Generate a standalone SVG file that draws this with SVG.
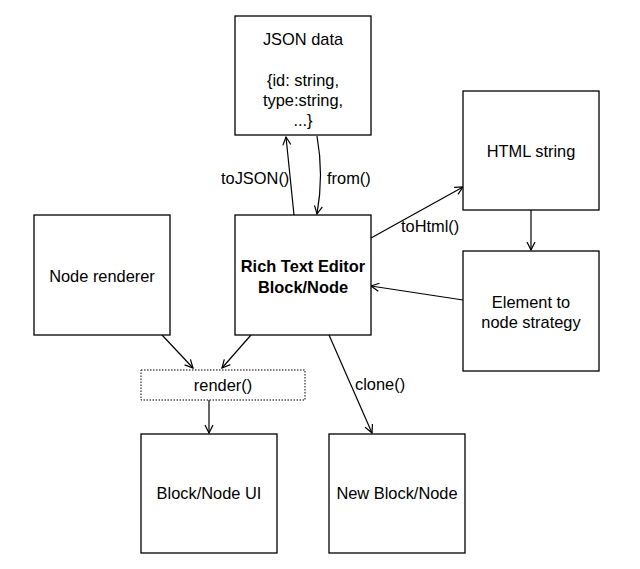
<svg xmlns="http://www.w3.org/2000/svg" width="640" height="569" viewBox="0 0 640 569">
<style>
.box{fill:#fff;stroke:#000;stroke-width:1.3}
.dot{fill:#fff;stroke:#000;stroke-width:1;stroke-dasharray:1.5 1.5}
text{font-family:"Liberation Sans",Arial,sans-serif;font-size:16.4px;fill:#000;text-anchor:middle}
.b{font-weight:bold}
.lbl{text-anchor:start}
.c{fill:none;stroke:#000;stroke-width:1.2;marker-end:url(#ah)}
</style>
<defs>
<marker id="ah" viewBox="0 0 10 10" refX="9" refY="5" markerWidth="10" markerHeight="10" markerUnits="userSpaceOnUse" orient="auto">
<path d="M1,1 L9,5 L1,9" fill="none" stroke="#000" stroke-width="1.2"/>
</marker>
</defs>
<rect width="640" height="569" fill="#fff"/>
<g id="connectors">
<path class="c" d="M294,215 L286,137"/>
<path class="c" d="M317,136 Q324,175 317,214"/>
<path class="c" d="M371,238 L463,187"/>
<path class="c" d="M463,300 L371,286"/>
<path class="c" d="M531,210 L531,250"/>
<path class="c" d="M162,335 L193,368"/>
<path class="c" d="M251,335 L222,368"/>
<path class="c" d="M209,400 L209,433"/>
<path class="c" d="M329,335 L372,433"/>
<text class="lbl" x="221" y="184">toJSON()</text>
<text class="lbl" x="327" y="184">from()</text>
<text class="lbl" x="401" y="232">toHtml()</text>
<text class="lbl" x="355" y="390">clone()</text>
</g>
<g id="json"><rect class="box" x="235" y="16" width="136" height="119"/>
<text x="303" y="45">JSON data</text><text x="303" y="86">{id: string,</text><text x="303" y="106">type:string,</text><text x="303" y="126">...}</text></g>
<g id="html"><rect class="box" x="463" y="91" width="136" height="119"/><text x="531" y="157">HTML string</text></g>
<g id="rte"><rect class="box" x="235" y="215" width="136" height="120"/><text class="b" x="303" y="272">Rich Text Editor</text><text class="b" x="303" y="293">Block/Node</text></g>
<g id="renderer"><rect class="box" x="34" y="215" width="136" height="120"/><text x="102" y="282">Node renderer</text></g>
<g id="strategy"><rect class="box" x="463" y="251" width="136" height="120"/><text x="531" y="308">Element to</text><text x="531" y="328">node strategy</text></g>
<g id="render"><rect class="dot" x="141" y="370" width="164" height="30"/><text x="223" y="391">render()</text></g>
<g id="ui"><rect class="box" x="141" y="434" width="136" height="119"/><text x="209" y="499">Block/Node UI</text></g>
<g id="newnode"><rect class="box" x="329" y="434" width="136" height="119"/><text x="397" y="499">New Block/Node</text></g>
</svg>
